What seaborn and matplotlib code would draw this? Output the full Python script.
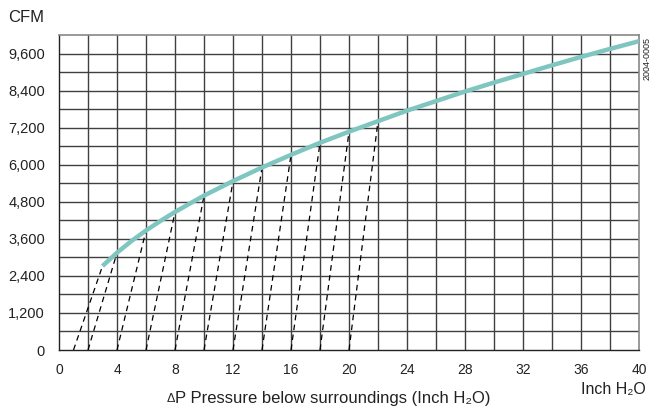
import matplotlib
matplotlib.use("Agg")
import matplotlib.pyplot as plt
import seaborn as sns
import pandas as pd
import numpy as np

# Data
pressure = [3, 4, 5, 6, 7, 8, 10, 12, 14, 16, 18, 20, 22, 24, 26, 28, 30, 32, 34, 36, 38, 40]
cfm = [2720, 3150, 3530, 3870, 4180, 4470, 5000, 5470, 5910, 6320, 6710, 7070, 7410, 7750, 8060, 8370, 8660, 8940, 9220, 9490, 9750, 10000]
# dashed guide lines: start on x-axis, end on curve
dash_start = [1, 2, 4, 6, 8, 10, 12, 14, 16, 18, 20]
dash_end = [3, 4, 6, 8, 10, 12, 14, 16, 18, 20, 22]
xticks = [0, 4, 8, 12, 16, 20, 24, 28, 32, 36, 40]
yticks = [0, 1200, 2400, 3600, 4800, 6000, 7200, 8400, 9600]

sns.set_style("white")
plt.rcParams['font.family'] = ['Liberation Sans', 'DejaVu Sans']

fig = plt.figure(figsize=(6.52, 4.11), dpi=100)
ax = fig.add_axes([59/652, 1-350/411, (639-59)/652, (350-35)/411])

# grid every 2 x, every 600 y
for gx in np.arange(2, 40, 2):
    ax.axvline(gx, color='#404040', lw=1.0, zorder=1)
for gy in np.arange(600, 10200, 600):
    ax.axhline(gy, color='#404040', lw=1.0, zorder=1)

# dashed lines
curve_lookup = dict(zip(pressure, cfm))
for s, e in zip(dash_start, dash_end):
    ax.plot([s, e], [0, curve_lookup[e]], color='black', lw=0.9, ls=(0, (4.5, 3.5)), zorder=2)

df = pd.DataFrame({"p": pressure, "cfm": cfm})
sns.lineplot(data=df, x="p", y="cfm", ax=ax, color='#7fc6c1', lw=3.2, zorder=3,
             solid_capstyle='butt')

ax.set_xlim(0, 40)
ax.set_ylim(0, 10200)
ax.set_xticks(xticks)
ax.set_xticklabels([str(v) for v in xticks])
ax.set_yticks(yticks)
ax.set_yticklabels([f"{v:,}" for v in yticks])
ax.tick_params(axis='both', colors='#222', length=4, width=0.9, direction='out')
ax.tick_params(axis='x', labelsize=10, pad=5)
ax.tick_params(axis='y', labelsize=10.5, pad=6)
ax.set_xlabel("")
ax.set_ylabel("")
for sp in ['left', 'bottom']:
    ax.spines[sp].set_color('#222')
    ax.spines[sp].set_linewidth(1.0)
for sp in ['top', 'right']:
    ax.spines[sp].set_color('#888')
    ax.spines[sp].set_linewidth(1.2)

fig.text(8/652, 1-17/411, "CFM", fontsize=12, color='#222', va='center', ha='left')

# x-axis title with a small delta sign
main = fig.text(333/652, 1-398/411, "P Pressure below surroundings (Inch H\u2082O)", fontsize=12,
                color='#222', ha='center', va='center')
fig.canvas.draw()
bb = main.get_window_extent(renderer=fig.canvas.get_renderer())
fig.text(bb.x0 / fig.bbox.width, 1-399/411, "\u0394", fontsize=9, color='#222',
         ha='right', va='center')

fig.text(646/652, 1-389/411, "Inch H\u2082O", fontsize=11.5, color='#222', ha='right', va='center')
fig.text(647/652, 1-59/411, "2004-0005", fontsize=6.5, color='#222', rotation=90,
         ha='center', va='center')

fig.savefig("out.png", dpi=100)
